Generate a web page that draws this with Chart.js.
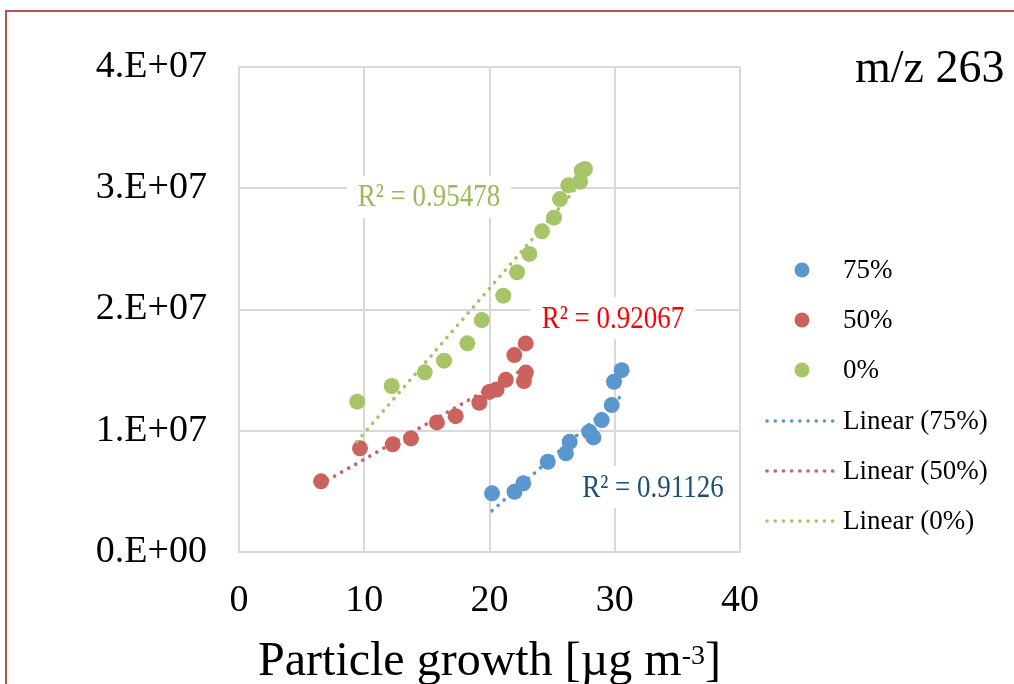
<!DOCTYPE html>
<html>
<head>
<meta charset="utf-8">
<script src="https://cdn.jsdelivr.net/npm/chart.js@4/dist/chart.umd.min.js"></script>
<style>
  html, body { margin: 0; padding: 0; background: #fff; overflow: hidden; }
</style>
</head>
<body>
<canvas id="grafico" width="1014" height="684"></canvas>
<script>
/* Dados */
var seriesNames = ['75%', '50%', '0%'];
var trendNames = ['Linear (75%)', 'Linear (50%)', 'Linear (0%)'];

var x75 = [20.2, 22.0, 22.7, 24.65, 26.1, 26.4, 27.97, 28.3, 28.96, 29.76, 29.94, 30.55];
var y75 = [4.84e6, 4.97e6, 5.66e6, 7.44e6, 8.14e6, 9.09e6, 9.92e6, 9.45e6, 1.088e7, 1.212e7, 1.404e7, 1.5e7];

var x50 = [6.55, 9.66, 12.27, 13.73, 15.8, 17.3, 19.19, 19.98, 20.57, 21.3, 21.98, 22.89, 22.9, 22.75];
var y50 = [5.83e6, 8.55e6, 8.88e6, 9.37e6, 1.069e7, 1.12e7, 1.231e7, 1.32e7, 1.34e7, 1.42e7, 1.624e7, 1.72e7, 1.48e7, 1.41e7];

var x0 = [9.44, 12.19, 14.83, 16.37, 18.23, 19.38, 21.1, 22.2, 23.18, 24.19, 25.15, 25.63, 26.29, 27.23, 27.36, 27.62];
var y0 = [1.24e7, 1.369e7, 1.482e7, 1.578e7, 1.721e7, 1.913e7, 2.114e7, 2.307e7, 2.458e7, 2.645e7, 2.757e7, 2.911e7, 3.024e7, 3.054e7, 3.145e7, 3.159e7];

var trendX75 = [20.2, 30.55];
var trendY75 = [3.4e6, 1.29e7];
var trendX50 = [6.5, 22.9];
var trendY50 = [5.6e6, 1.52e7];
var trendX0 = [9.4, 27.6];
var trendY0 = [9.1e6, 3.08e7];

var r2Values = ['0.91126', '0.92067', '0.95478'];

var xTickLabels = ['0', '10', '20', '30', '40'];
var yTickLabels = ['0.E+00', '1.E+07', '2.E+07', '3.E+07', '4.E+07'];
var tituloGrafico = 'm/z 263';

/* Cores */
var cores = ['#5B97CE', '#CC625E', '#A8C468'];
var coresR2 = ['#1F4E79', '#FF0000', '#9BBB59'];
var fonte = 'Liberation Serif';

function pontos(xs, ys) {
  return xs.map(function (x, i) { return { x: x, y: ys[i] }; });
}

function serieDispersao(nome, xs, ys, cor) {
  return {
    label: nome, data: pontos(xs, ys),
    backgroundColor: cor, borderColor: cor,
    pointRadius: 8, pointHoverRadius: 8, pointBorderWidth: 0,
    showLine: false, order: 2
  };
}

function serieTendencia(nome, xs, ys, cor) {
  return {
    label: nome, data: pontos(xs, ys),
    borderColor: cor, backgroundColor: cor,
    borderWidth: 3.6, borderDash: [0.1, 8], borderCapStyle: 'round',
    pointRadius: 0, pointHoverRadius: 0,
    showLine: true, fill: false, order: 1
  };
}

/* Plugin de decoração: moldura, título, rótulo do eixo x, R² e legenda */
var decoracao = {
  id: 'decoracao',
  beforeDraw: function (chart) {
    var ctx = chart.ctx;
    ctx.save();
    ctx.fillStyle = '#fff';
    ctx.fillRect(0, 0, chart.width, chart.height);
    ctx.fillStyle = '#B5524F';
    ctx.fillRect(5, 10, 2, chart.height);
    ctx.fillRect(5, 10, chart.width, 2);
    ctx.restore();
  },
  beforeDatasetsDraw: function (chart) {
    // rótulos R² com caixa branca sobre a grade
    var ctx = chart.ctx;
    var sx = chart.scales.x, sy = chart.scales.y;
    var ancoras = [[33.05, 5.36e6], [29.86, 1.93e7], [15.17, 2.928e7]];
    ctx.save();
    ctx.font = '27px "' + fonte + '"';
    ctx.textAlign = 'center';
    ctx.textBaseline = 'middle';
    for (var i = 0; i < 3; i++) {
      var cx = sx.getPixelForValue(ancoras[i][0]);
      var cy = sy.getPixelForValue(ancoras[i][1]);
      var txt = 'R\u00B2 = ' + r2Values[i];
      var w = ctx.measureText(txt).width;
      ctx.fillStyle = '#fff';
      ctx.fillRect(cx - w / 2 - 11, cy - 21, w + 22, 42);
      ctx.save();
      ctx.translate(cx, cy + 1);
      ctx.scale(1, 1.2);
      ctx.fillStyle = coresR2[i];
      ctx.fillText(txt, 0, 0);
      ctx.restore();
    }
    ctx.restore();
  },
  afterDraw: function (chart) {
    var ctx = chart.ctx;
    var area = chart.chartArea;
    ctx.save();
    ctx.fillStyle = '#000';

    // título
    ctx.font = '46px "' + fonte + '"';
    ctx.textAlign = 'left';
    ctx.textBaseline = 'alphabetic';
    ctx.fillText(tituloGrafico, 855, 82);

    // rótulo do eixo x com expoente
    var parte1 = 'Particle growth [\u00B5g m', sup = '-3', parte2 = ']';
    ctx.font = '48px "' + fonte + '"';
    var w1 = ctx.measureText(parte1).width;
    var w3 = ctx.measureText(parte2).width;
    ctx.font = '28px "' + fonte + '"';
    var w2 = ctx.measureText(sup).width;
    var x0t = (area.left + area.right) / 2 - (w1 + w2 + w3) / 2;
    ctx.font = '48px "' + fonte + '"';
    ctx.fillText(parte1, x0t, 675);
    ctx.fillText(parte2, x0t + w1 + w2, 675);
    ctx.font = '28px "' + fonte + '"';
    ctx.fillText(sup, x0t + w1, 664);

    // legenda
    var ys = [270, 320, 370, 421, 471, 521];
    ctx.font = '27px "' + fonte + '"';
    ctx.textBaseline = 'middle';
    for (var i = 0; i < 3; i++) {
      ctx.fillStyle = cores[i];
      ctx.beginPath();
      ctx.arc(802, ys[i], 7.5, 0, Math.PI * 2);
      ctx.fill();
      ctx.fillStyle = '#000';
      ctx.fillText(seriesNames[i], 843, ys[i] + 1);
    }
    for (var j = 0; j < 3; j++) {
      var yy = ys[3 + j];
      ctx.strokeStyle = cores[j];
      ctx.lineWidth = 3.6;
      ctx.lineCap = 'round';
      ctx.setLineDash([0.1, 8.1]);
      ctx.beginPath();
      ctx.moveTo(767, yy);
      ctx.lineTo(834, yy);
      ctx.stroke();
      ctx.setLineDash([]);
      ctx.fillStyle = '#000';
      ctx.fillText(trendNames[j], 843, yy + 1);
    }
    ctx.restore();
  }
};

var grafico = new Chart(document.getElementById('grafico').getContext('2d'), {
  type: 'scatter',
  data: {
    datasets: [
      serieDispersao(seriesNames[0], x75, y75, cores[0]),
      serieDispersao(seriesNames[1], x50, y50, cores[1]),
      serieDispersao(seriesNames[2], x0, y0, cores[2]),
      serieTendencia(trendNames[0], trendX75, trendY75, cores[0]),
      serieTendencia(trendNames[1], trendX50, trendY50, cores[1]),
      serieTendencia(trendNames[2], trendX0, trendY0, cores[2])
    ]
  },
  options: {
    responsive: false,
    animation: false,
    devicePixelRatio: 1,
    layout: { padding: { left: 0, top: 67, right: 274, bottom: 0 } },
    plugins: { legend: { display: false }, tooltip: { enabled: false } },
    scales: {
      x: {
        type: 'linear', min: 0, max: 40,
        afterFit: function (s) { s.height = 132; },
        grid: { color: '#D9D9D9', lineWidth: 2, drawTicks: false },
        border: { color: '#D9D9D9', width: 2 },
        ticks: {
          stepSize: 10, padding: 26, color: '#000',
          font: { family: fonte, size: 38 },
          callback: function (v) { return xTickLabels[Math.round(v / 10)]; }
        }
      },
      y: {
        type: 'linear', min: 0, max: 4e7,
        afterFit: function (s) { s.width = 239; },
        grid: { color: '#D9D9D9', lineWidth: 2, drawTicks: false },
        border: { color: '#D9D9D9', width: 2 },
        ticks: {
          stepSize: 1e7, padding: 32, color: '#000',
          font: { family: fonte, size: 38 },
          callback: function (v) { return yTickLabels[Math.round(v / 1e7)]; }
        }
      }
    }
  },
  plugins: [decoracao]
});
</script>
</body>
</html>
